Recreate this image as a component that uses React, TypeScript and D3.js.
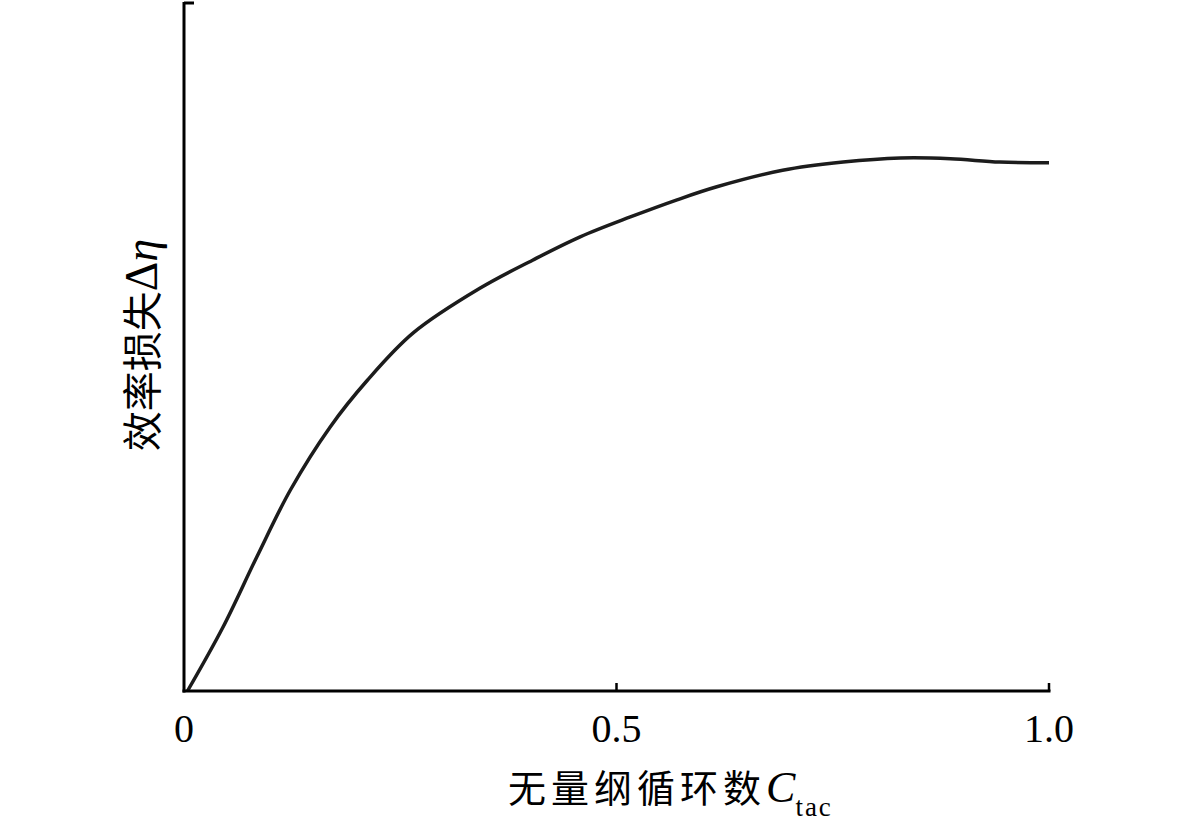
import React from "react";
import * as d3 from "d3";

const cycles = [0.004, 0.045, 0.084, 0.123, 0.169, 0.212, 0.265, 0.342, 0.403, 0.458, 0.516, 0.57, 0.616, 0.692, 0.762, 0.828, 0.886, 0.943, 1.0];
const loss = [0, 0.093, 0.195, 0.293, 0.385, 0.453, 0.522, 0.587, 0.628, 0.662, 0.691, 0.716, 0.735, 0.759, 0.771, 0.777, 0.776, 0.771, 0.77];
const xTickValues = [0, 0.5, 1.0];
const xTickLabels = ["0", "0.5", "1.0"];
const yTickValues = [1.0];

const W = 1181;
const H = 823;
const left = 184;
const right = 1049;
const bottom = 691;
const top = 5;

export default function App() {
  const x = d3.scaleLinear().domain([0, 1]).range([left, right]);
  const y = d3.scaleLinear().domain([0, 1]).range([bottom, top]);
  const pts = cycles.map((c, i) => [c, loss[i]] as [number, number]);
  const line = d3
    .line<[number, number]>()
    .x((d) => x(d[0]))
    .y((d) => y(d[1]))
    .curve(d3.curveCatmullRom.alpha(0.5));

  const serif = "'Liberation Serif', 'Times New Roman', serif";
  const cjk = "'Noto Sans CJK SC', sans-serif";

  return (
    <svg
      width={W}
      height={H}
      style={{ position: "absolute", left: 0, top: 0, background: "#fff" }}
    >
      {/* curve */}
      <path d={line(pts) || ""} fill="none" stroke="#1c1c1c" strokeWidth={3.5} strokeLinejoin="round" />

      {/* axes */}
      <line x1={left} y1={bottom + 1.5} x2={left} y2={top - 3} stroke="#000" strokeWidth={3} />
      <line x1={left - 1.5} y1={bottom} x2={right + 1.5} y2={bottom} stroke="#000" strokeWidth={3} />

      {yTickValues.map((v) => (
        <line key={"yt" + v} x1={left} x2={left + 10} y1={y(v) - 2} y2={y(v) - 2} stroke="#000" strokeWidth={3} />
      ))}

      {xTickValues.map((v, i) => (
        <g key={"xt" + v}>
          {v > 0 && (
            <line x1={x(v)} x2={x(v)} y1={bottom} y2={bottom - 8} stroke="#000" strokeWidth={2.5} />
          )}
          <text
            x={x(v)}
            y={742}
            textAnchor="middle"
            fontFamily={serif}
            fontSize={40}
            fill="#000"
          >
            {xTickLabels[i]}
          </text>
        </g>
      ))}

      {/* x axis title */}
      <text x={508} y={802} fontSize={38} fill="#000">
        <tspan fontFamily={cjk} letterSpacing={5}>无量纲循环数</tspan>
        <tspan fontFamily={serif} fontStyle="italic" fontSize={44}>C</tspan>
        <tspan fontFamily={serif} fontSize={27} dy={14} letterSpacing={2}>tac</tspan>
      </text>

      {/* y axis title */}
      <text
        transform="translate(157,345) rotate(-90)"
        textAnchor="middle"
        fontSize={40}
        fill="#000"
      >
        <tspan fontFamily={cjk}>效率损失</tspan>
        <tspan fontFamily={serif} fontSize={46}>Δ</tspan>
        <tspan fontFamily={serif} fontStyle="italic" fontSize={46}>η</tspan>
      </text>
    </svg>
  );
}
